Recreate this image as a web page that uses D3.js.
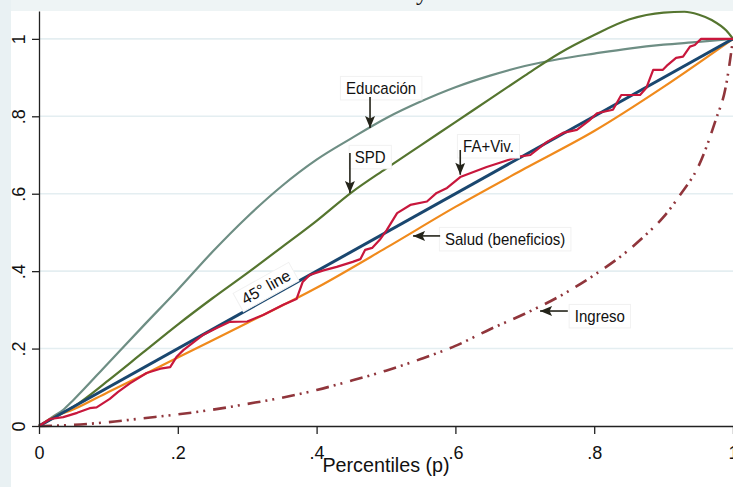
<!DOCTYPE html>
<html>
<head>
<meta charset="utf-8">
<script src="https://cdn.jsdelivr.net/npm/d3@7"></script>
<style>
  body { margin: 0; background: #fff; }
  svg { display: block; font-family: "Liberation Sans", Arial, sans-serif; }
</style>
</head>
<body>
<div id="chart"></div>
<script>
// axis ticks
const xTicks = [0, 0.2, 0.4, 0.6, 0.8, 1];
const xTickLabels = ["0", ".2", ".4", ".6", ".8", "1"];
const yTicks = [0, 0.2, 0.4, 0.6, 0.8, 1];
const yTickLabels = ["0", ".2", ".4", ".6", ".8", "1"];
const yTop = 1.072; // top of the plot region

// 45 degree line
const diagP = [0, 1];
const diagL = [0, 1];

// Educación
const eduP = [0, .02, .035, .05, .1, .15, .2, .25, .3, .35, .4, .45, .5, .55, .6, .65, .7, .75, .8, .85, .9, .95, 1];
const eduL = [0, .024, .042, .068, .163, .258, .352, .45, .54, .62, .688, .743, .795, .838, .875, .905, .93, .948, .962, .975, .985, .992, 1];

// SPD
const spdP = [0, .02, .05, .1, .15, .2, .25, .3, .35, .4, .45, .5, .55, .6, .65, .7, .75, .8, .85, .9, .93, .95, .97, .99, 1];
const spdL = [0, .02, .05, .118, .19, .262, .33, .395, .462, .53, .603, .665, .725, .785, .845, .905, .963, 1.01, 1.05, 1.068, 1.07, 1.063, 1.048, 1.022, 1];

// Salud (beneficios)
const saludP = [0, .02, .05, .1, .15, .2, .3, .4, .5, .6, .7, .8, .9, 1];
const saludL = [0, .022, .043, .088, .132, .177, .266, .357, .46, .566, .665, .762, .876, 1];

// FA+Viv.
const faP = [0, .016, .035, .055, .073, .083, .102, .114, .131, .155, .175, .189, .198, .208, .236, .256, .275, .3, .323, .352, .371, .38, .39, .41, .429, .452, .463, .47, .48, .491, .501, .516, .535, .559, .573, .588, .607, .626, .645, .664, .689, .708, .732, .755, .775, .794, .804, .827, .839, .866, .875, .885, .899, .906, .918, .928, .938, .945, .954, 1];
const faL = [0, .018, .023, .034, .046, .048, .07, .088, .11, .137, .148, .152, .178, .196, .235, .253, .269, .27, .287, .313, .328, .372, .39, .402, .411, .424, .431, .455, .46, .481, .506, .55, .571, .58, .602, .615, .643, .656, .669, .68, .695, .70, .734, .757, .765, .791, .808, .817, .855, .855, .873, .92, .92, .933, .951, .954, .98, .984, 1, 1];

// Ingreso
const ingP = [0, .05, .1, .15, .2, .25, .3, .35, .4, .45, .5, .55, .6, .65, .7, .75, .8, .85, .875, .9, .925, .95, .975, .99, 1];
const ingL = [0, .003, .01, .02, .03, .042, .057, .073, .093, .117, .143, .173, .207, .25, .29, .335, .39, .455, .495, .54, .6, .67, .79, .88, 1];

// annotation labels and arrows, in data units
const labelText = ["Educación", "SPD", "FA+Viv.", "Salud (beneficios)", "Ingreso"];
const labelP = [.493, .455, .611, .585, .772];
const labelL = [.858, .68, .708, .468, .269];
const labelAnchor = ["middle", "start", "start", "start", "start"];
const arrowFromP = [.477, .448, .607, .578, .762];
const arrowFromL = [.85, .705, .713, .491, .297];
const arrowToP = [.477, .448, .607, .539, .722];
const arrowToL = [.77, .602, .649, .491, .297];
const diagLabel = "45° line";
const diagLabelP = .327;
const diagLabelL = .359;

const W = 733, H = 487;
const squeeze = 0.94;

const svg = d3.select("#chart").append("svg")
  .attr("width", W)
  .attr("height", H);

// outer background strips
svg.append("rect").attr("x", 0).attr("y", 0).attr("width", W).attr("height", 11).attr("fill", "#eef4f5");
svg.append("rect").attr("x", 0).attr("y", 0).attr("width", 11).attr("height", H).attr("fill", "#e9f1f3");

// title remnant (cut off at the top)
svg.append("text")
  .attr("x", 422).attr("y", 0)
  .attr("text-anchor", "middle")
  .attr("font-family", "Liberation Serif, serif")
  .attr("font-size", 24)
  .attr("fill", "#111")
  .text("y");

const x = d3.scaleLinear().domain([0, 1]).range([39, 733]);
const y = d3.scaleLinear().domain([0, yTop]).range([426, 11]);

// gridlines
svg.append("g")
  .selectAll("line")
  .data(yTicks.filter(d => d > 0))
  .enter().append("line")
  .attr("x1", x(0)).attr("x2", x(1))
  .attr("y1", d => y(d)).attr("y2", d => y(d))
  .attr("stroke", "#e4eef1")
  .attr("stroke-width", 1.6);

const zip = (p, l) => p.map((v, i) => [v, l[i]]);
const smooth = d3.line().x(d => x(d[0])).y(d => y(d[1])).curve(d3.curveMonotoneX);
const straight = d3.line().x(d => x(d[0])).y(d => y(d[1]));

const plot = svg.append("g");

plot.append("path")
  .attr("d", smooth(zip(ingP, ingL)))
  .attr("fill", "none")
  .attr("stroke", "#90353b")
  .attr("stroke-width", 2.6)
  .attr("stroke-dasharray", "13,5,2,5,2,8");

plot.append("path")
  .attr("d", smooth(zip(eduP, eduL)))
  .attr("fill", "none")
  .attr("stroke", "#6e8e84")
  .attr("stroke-width", 2.2);

plot.append("path")
  .attr("d", smooth(zip(spdP, spdL)))
  .attr("fill", "none")
  .attr("stroke", "#55752f")
  .attr("stroke-width", 2.2);

plot.append("path")
  .attr("d", smooth(zip(saludP, saludL)))
  .attr("fill", "none")
  .attr("stroke", "#f08a1c")
  .attr("stroke-width", 2.2);

plot.append("path")
  .attr("d", straight(zip(diagP, diagL)))
  .attr("fill", "none")
  .attr("stroke", "#1a476f")
  .attr("stroke-width", 3);

plot.append("path")
  .attr("d", straight(zip(faP, faL)))
  .attr("fill", "none")
  .attr("stroke", "#c8173c")
  .attr("stroke-width", 2.2)
  .attr("stroke-linejoin", "round");

// axes
const xAxis = svg.append("g")
  .attr("transform", `translate(0,${y(0)})`)
  .call(d3.axisBottom(x).tickValues(xTicks).tickFormat((d, i) => xTickLabels[i]).tickSize(8).tickSizeOuter(0));
xAxis.select(".domain").attr("stroke", "#222").attr("stroke-width", 1.3);
xAxis.selectAll(".tick line").attr("stroke", "#222").attr("stroke-width", 1.3);
xAxis.selectAll(".tick text")
  .attr("y", 33).attr("dy", 0)
  .attr("font-size", 18)
  .attr("font-family", "Liberation Sans, Arial, sans-serif")
  .attr("fill", "#111");

const yAxis = svg.append("g")
  .attr("transform", `translate(${x(0)},0)`)
  .call(d3.axisLeft(y).tickValues(yTicks).tickFormat((d, i) => yTickLabels[i]).tickSize(7).tickSizeOuter(0));
yAxis.select(".domain").attr("stroke", "#222").attr("stroke-width", 1.3);
yAxis.selectAll(".tick line").attr("stroke", "#222").attr("stroke-width", 1.3);
yAxis.selectAll(".tick text")
  .attr("x", 0).attr("y", -14).attr("dy", 0)
  .attr("text-anchor", "middle")
  .attr("transform", "rotate(-90)")
  .attr("font-size", 18)
  .attr("font-family", "Liberation Sans, Arial, sans-serif")
  .attr("fill", "#111");

// axis title
svg.append("text")
  .attr("transform", `translate(${(x(0) + x(1)) / 2},472) scale(${squeeze},1)`)
  .attr("text-anchor", "middle")
  .attr("font-size", 21)
  .attr("fill", "#111")
  .text("Percentiles (p)");

// annotations
const defs = svg.append("defs");
defs.append("marker")
  .attr("id", "head")
  .attr("markerUnits", "userSpaceOnUse")
  .attr("viewBox", "0 0 12 10")
  .attr("refX", 12).attr("refY", 5)
  .attr("markerWidth", 13).attr("markerHeight", 10)
  .attr("orient", "auto")
  .append("path")
  .attr("d", "M0,0 L12,5 L0,10 L2.5,5 Z")
  .attr("fill", "#24241a");

const anno = svg.append("g");

function boxedLabel(txt, px, py, anchor, rot) {
  const g = anno.append("g")
    .attr("transform", `translate(${px},${py}) rotate(${rot}) scale(${squeeze},1)`);
  const r = g.append("rect");
  const t = g.append("text")
    .attr("text-anchor", anchor)
    .attr("font-size", 16)
    .attr("fill", "#111")
    .text(txt);
  const b = t.node().getBBox();
  r.attr("x", b.x - 6).attr("y", b.y - 3)
    .attr("width", b.width + 12).attr("height", b.height + 6)
    .attr("fill", "#fff")
    .attr("stroke", "#f1f1f1");
}

labelText.forEach((txt, i) => {
  boxedLabel(txt, x(labelP[i]), y(labelL[i]), labelAnchor[i], 0);
  anno.append("line")
    .attr("x1", x(arrowFromP[i])).attr("y1", y(arrowFromL[i]))
    .attr("x2", x(arrowToP[i])).attr("y2", y(arrowToL[i]))
    .attr("stroke", "#24241a")
    .attr("stroke-width", 1.6)
    .attr("marker-end", "url(#head)");
});

const slope = Math.atan2(y(1) - y(0), x(1) - x(0)) * 180 / Math.PI;
const dg = anno.append("g")
  .attr("transform", `translate(${x(diagLabelP)},${y(diagLabelL)}) rotate(${slope})`);
const dr = dg.append("rect");
const dt = dg.append("text")
  .attr("text-anchor", "middle")
  .attr("dy", "0.35em")
  .attr("font-size", 16)
  .attr("fill", "#111")
  .text(diagLabel);
const db = dt.node().getBBox();
dr.attr("x", db.x - 5).attr("y", db.y - 2)
  .attr("width", db.width + 10).attr("height", db.height + 4)
  .attr("fill", "#fff")
  .attr("stroke", "#f1f1f1");
</script>
</body>
</html>
